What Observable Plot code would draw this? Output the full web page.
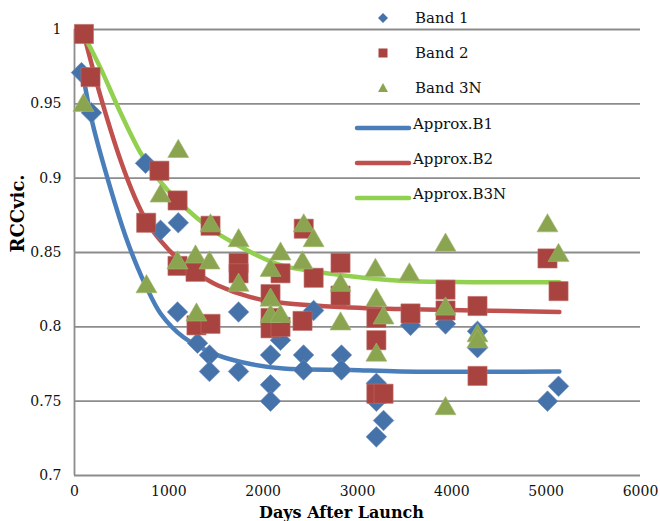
<!DOCTYPE html>
<html>
<head>
<meta charset="utf-8">
<script src="https://cdn.jsdelivr.net/npm/d3@7"></script>
<script src="https://cdn.jsdelivr.net/npm/@observablehq/plot@0.6"></script>
<style>
  html, body { margin: 0; padding: 0; background: #fff; }
  #wrap { position: relative; width: 660px; height: 521px; font-family: "DejaVu Serif", serif; }
  #legend { position: absolute; left: 0; top: 0; width: 660px; height: 521px; pointer-events: none; }
  .lg-row { position: absolute; font-size: 15px; color: #111; white-space: nowrap; line-height: 1; }
</style>
</head>
<body>
<div id="wrap"><div id="legend"></div></div>
<script>
// ---- data ----
const xTicks = [0, 1000, 2000, 3000, 4000, 5000, 6000];
const yTicks = [0.7, 0.75, 0.8, 0.85, 0.9, 0.95, 1];
const yTickLabels = ["0.7", "0.75", "0.8", "0.85", "0.9", "0.95", "1"];
const seriesNames = ["Band 1", "Band 2", "Band 3N"];
const curveNames = ["Approx.B1", "Approx.B2", "Approx.B3N"];
const xTitle = "Days After Launch";
const yTitle = "RCCvic.";

const band1Days   = [74, 180, 753, 912, 1100, 1092, 1304, 1431, 1431, 1739, 1739, 2078, 2078, 2078, 2184, 2428, 2428, 2535, 2830, 2830, 3200, 3200, 3276, 3200, 3562, 3933, 4272, 4272, 5014, 5131];
const band1Values = [0.971, 0.944, 0.910, 0.865, 0.870, 0.810, 0.789, 0.781, 0.770, 0.810, 0.770, 0.781, 0.761, 0.750, 0.791, 0.781, 0.771, 0.811, 0.781, 0.771, 0.762, 0.750, 0.737, 0.726, 0.801, 0.802, 0.797, 0.786, 0.750, 0.760];

const band2Days   = [100, 170, 900, 1093, 760, 1442, 1092, 1283, 1293, 1442, 1739, 1739, 2430, 2078, 2078, 2078, 2184, 2184, 2417, 2535, 2820, 2820, 3200, 3200, 3200, 3276, 3562, 3933, 3933, 4272, 4272, 5014, 5131];
const band2Values = [0.997, 0.968, 0.905, 0.885, 0.870, 0.868, 0.841, 0.837, 0.801, 0.802, 0.843, 0.836, 0.866, 0.822, 0.806, 0.799, 0.836, 0.800, 0.804, 0.833, 0.843, 0.821, 0.806, 0.791, 0.755, 0.755, 0.809, 0.825, 0.811, 0.814, 0.767, 0.846, 0.824];

const band3Days   = [95, 1100, 912, 1442, 1740, 2430, 2535, 763, 1092, 1283, 1431, 1293, 1739, 2078, 2184, 2417, 2078, 2078, 2184, 2820, 2820, 3190, 3200, 3276, 3200, 3550, 3933, 3933, 3933, 4272, 4272, 5014, 5131];
const band3Values = [0.951, 0.920, 0.890, 0.870, 0.860, 0.870, 0.860, 0.829, 0.845, 0.849, 0.845, 0.810, 0.830, 0.840, 0.851, 0.845, 0.820, 0.809, 0.809, 0.830, 0.804, 0.840, 0.820, 0.808, 0.783, 0.837, 0.857, 0.814, 0.747, 0.796, 0.792, 0.870, 0.850];

const approxB1Days   = [95, 191, 382, 541, 668, 753, 912, 1156, 1516, 1866, 2215, 2926, 3456, 5140];
const approxB1Values = [0.968, 0.937, 0.893, 0.861, 0.840, 0.828, 0.809, 0.793, 0.781, 0.775, 0.772, 0.771, 0.770, 0.770];

const approxB2Days   = [110, 276, 488, 640, 763, 912, 1092, 1300, 1516, 1866, 2215, 2926, 3456, 5140];
const approxB2Values = [0.994, 0.955, 0.912, 0.887, 0.871, 0.858, 0.846, 0.836, 0.828, 0.820, 0.816, 0.813, 0.812, 0.810];

const approxB3Days   = [110, 276, 488, 700, 880, 1092, 1442, 1728, 1972, 2215, 2926, 3456, 5140];
const approxB3Values = [0.995, 0.974, 0.944, 0.917, 0.900, 0.885, 0.866, 0.855, 0.847, 0.841, 0.834, 0.831, 0.830];

// ---- styles ----
const markerColors = ["#4672AA", "#A8433F", "#8BA44F"];
const lineColors = ["#4A7EBB", "#C0504D", "#92D050"];
const gridColor = "#8C8C8C";

const pts = (xs, ys, name) => xs.map((x, i) => ({x, y: ys[i], name}));
const b1 = pts(band1Days, band1Values, seriesNames[0]);
const b2 = pts(band2Days, band2Values, seriesNames[1]);
const b3 = pts(band3Days, band3Values, seriesNames[2]);
const c1 = pts(approxB1Days, approxB1Values, curveNames[0]);
const c2 = pts(approxB2Days, approxB2Values, curveNames[1]);
const c3 = pts(approxB3Days, approxB3Values, curveNames[2]);

const chart = Plot.plot({
  width: 660,
  height: 521,
  marginLeft: 74,
  marginRight: 20,
  marginTop: 29,
  marginBottom: 46,
  style: {fontFamily: "DejaVu Serif, serif", fontSize: "14px", color: "#111", background: "#fff"},
  x: {domain: [0, 6000], ticks: xTicks},
  y: {domain: [0.7, 1], ticks: yTicks},
  marks: [
    Plot.ruleY(yTicks.filter(v => v > 0.7), {stroke: gridColor, strokeWidth: 1.8}),
    Plot.ruleY([0.7], {stroke: gridColor, strokeWidth: 1.8}),
    Plot.ruleX([0], {stroke: gridColor, strokeWidth: 1.8}),
    Plot.axisX({ticks: xTicks, tickSize: 0, tickPadding: 11, label: null, tickFormat: d => String(d)}),
    Plot.axisY({ticks: yTicks, tickSize: 0, tickPadding: 13, label: null, tickFormat: d => yTickLabels[yTicks.indexOf(d)]}),
    Plot.line(c1, {x: "x", y: "y", stroke: lineColors[0], strokeWidth: 4.5, curve: "catmull-rom", strokeLinecap: "round"}),
    Plot.line(c2, {x: "x", y: "y", stroke: lineColors[1], strokeWidth: 4.5, curve: "catmull-rom", strokeLinecap: "round"}),
    Plot.line(c3, {x: "x", y: "y", stroke: lineColors[2], strokeWidth: 4.5, curve: "catmull-rom", strokeLinecap: "round"}),
    Plot.dot(b1, {x: "x", y: "y", symbol: "diamond2", r: 9.3, fill: markerColors[0], stroke: "#6d8fc0", strokeWidth: 0.6}),
    Plot.dot(b2, {x: "x", y: "y", symbol: "square", r: 10.8, fill: markerColors[1], stroke: "#c06b68", strokeWidth: 0.6}),
    Plot.dot(b3, {x: "x", y: "y", symbol: "triangle", r: 7.8, dy: 3, fill: markerColors[2], stroke: "#a3b874", strokeWidth: 0.6}),
    Plot.text([xTitle], {frameAnchor: "bottom", dx: -16, dy: 37, lineAnchor: "middle", text: d => d, fontWeight: "bold", fontSize: 16, fill: "#000"}),
    Plot.text([yTitle], {frameAnchor: "left", dx: -56, rotate: -90, lineAnchor: "middle", text: d => d, fontWeight: "bold", fontSize: 18, fill: "#000"})
  ]
});
const wrap = document.getElementById("wrap");
wrap.insertBefore(chart, wrap.firstChild);

// ---- legend overlay (inside the plot, top right, transparent) ----
const legend = document.getElementById("legend");
const rowTop = 18, rowStep = 35.2;
const markerSvgs = [
  `<svg width="12" height="12" viewBox="-6 -6 12 12"><path d="M0,-5L5,0L0,5L-5,0Z" fill="${markerColors[0]}"/></svg>`,
  `<svg width="12" height="12" viewBox="-6 -6 12 12"><rect x="-4.5" y="-4.5" width="9" height="9" fill="${markerColors[1]}"/></svg>`,
  `<svg width="12" height="12" viewBox="-6 -6 12 12"><path d="M0,-5L5,4L-5,4Z" fill="${markerColors[2]}"/></svg>`
];
seriesNames.forEach((name, i) => {
  const y = rowTop + i * rowStep;
  const m = document.createElement("div");
  m.className = "lg-row";
  m.style.left = "377px"; m.style.top = (y - 6) + "px";
  m.innerHTML = markerSvgs[i];
  legend.appendChild(m);
  const t = document.createElement("div");
  t.className = "lg-row";
  t.style.left = "415px"; t.style.top = (y - 7) + "px";
  t.textContent = name;
  legend.appendChild(t);
});
curveNames.forEach((name, i) => {
  const y = rowTop + (i + 3) * rowStep;
  const m = document.createElement("div");
  m.className = "lg-row";
  m.style.left = "354px"; m.style.top = (y - 4) + "px";
  m.innerHTML = `<svg width="60" height="8"><line x1="3" y1="4" x2="55" y2="4" stroke="${lineColors[i]}" stroke-width="4.5" stroke-linecap="round"/></svg>`;
  legend.appendChild(m);
  const t = document.createElement("div");
  t.className = "lg-row";
  t.style.left = "413px"; t.style.top = (y - 7) + "px";
  t.textContent = name;
  legend.appendChild(t);
});
</script>
</body>
</html>
